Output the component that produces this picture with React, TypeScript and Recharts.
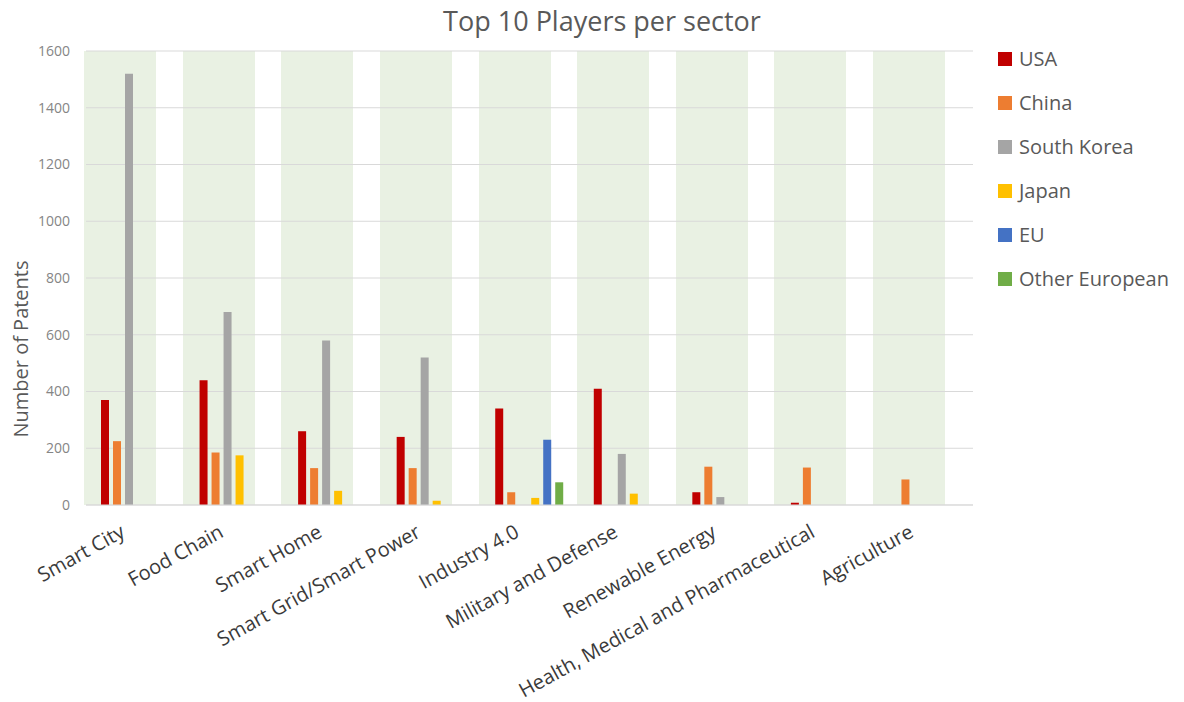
import React from 'react';
import { BarChart, Bar, XAxis, YAxis, CartesianGrid } from 'recharts';

const sectors = [
  'Smart City',
  'Food Chain',
  'Smart Home',
  'Smart Grid/Smart Power',
  'Industry 4.0',
  'Military and Defense',
  'Renewable Energy',
  'Health, Medical and Pharmaceutical',
  'Agriculture',
];
const usa = [370, 440, 260, 240, 340, 410, 45, 8, 0];
const china = [225, 185, 130, 130, 45, 0, 135, 132, 90];
const southKorea = [1520, 680, 580, 520, 0, 180, 28, 0, 0];
const japan = [0, 175, 50, 15, 25, 40, 0, 0, 0];
const eu = [0, 0, 0, 0, 230, 0, 0, 0, 0];
const otherEuropean = [0, 0, 0, 0, 80, 0, 0, 0, 0];
const yTicks = [0, 200, 400, 600, 800, 1000, 1200, 1400, 1600];

const seriesNames = ['USA', 'China', 'South Korea', 'Japan', 'EU', 'Other European'];
const seriesKeys = ['usa', 'china', 'southKorea', 'japan', 'eu', 'otherEuropean'];
const seriesColors = ['#C00000', '#ED7D31', '#A5A5A5', '#FFC000', '#4472C4', '#70AD47'];

// background band style (width and shift relative to category centre)
const BAND_WIDTH = 72;
const BAND_SHIFT = -15;

const yMax = yTicks[yTicks.length - 1];

const data = sectors.map((s, i) => ({
  sector: s,
  usa: usa[i],
  china: china[i],
  southKorea: southKorea[i],
  japan: japan[i],
  eu: eu[i],
  otherEuropean: otherEuropean[i],
}));

const CategoryTick = (props: any) => {
  const { x, y, payload } = props;
  return (
    <g transform={`translate(${x - 9},${y + 23})`}>
      <text
        textAnchor="end"
        transform="rotate(-29)"
        fontFamily="'Open Sans', sans-serif"
        fontSize={20}
        fill="#3A3A3A"
      >
        {payload.value}
      </text>
    </g>
  );
};

// band edges follow the category axis layout (one equal band per sector)
const bandEdges = ({ offset }: any) => {
  const step = offset.width / sectors.length;
  const pts: number[] = [];
  sectors.forEach((_s, i) => {
    const c = offset.left + (i + 0.5) * step + BAND_SHIFT;
    pts.push(c - BAND_WIDTH / 2, c + BAND_WIDTH / 2);
  });
  return pts;
};

export default function App() {
  return (
    <div style={{ position: 'absolute', left: 0, top: 0, width: 1184, height: 702, background: '#fff' }}>
      <BarChart
        width={1184}
        height={702}
        data={data}
        margin={{ top: 51, right: 211, left: 26, bottom: 7 }}
        barGap={4}
      >
        <CartesianGrid
          horizontal={false}
          vertical={true}
          stroke="none"
          verticalCoordinatesGenerator={bandEdges}
          verticalFill={['none', '#E9F1E3']}
          fillOpacity={1}
        />
        <CartesianGrid vertical={false} stroke="#D9D9D9" />
        <XAxis
          dataKey="sector"
          interval={0}
          tickLine={false}
          axisLine={{ stroke: '#D9D9D9' }}
          height={190}
          tick={<CategoryTick />}
        />
        <YAxis
          width={60}
          domain={[0, yMax]}
          ticks={yTicks}
          axisLine={false}
          tickLine={false}
          tickMargin={10}
          tick={{ fontFamily: "'Open Sans', sans-serif", fontSize: 14, fill: '#858585' }}
        />
        {seriesKeys.map((k, i) => (
          <Bar
            key={k}
            dataKey={k}
            name={seriesNames[i]}
            fill={seriesColors[i]}
            barSize={8}
            isAnimationActive={false}
          />
        ))}
      </BarChart>
      <svg
        width={1184}
        height={702}
        style={{ position: 'absolute', left: 0, top: 0, pointerEvents: 'none' }}
      >
        <text
          x={602}
          y={31}
          textAnchor="middle"
          fontFamily="'Open Sans', sans-serif"
          fontSize={27}
          fill="#595959"
        >
          Top 10 Players per sector
        </text>
        <text
          transform="rotate(-90, 28, 349)"
          x={28}
          y={349}
          textAnchor="middle"
          fontFamily="'Open Sans', sans-serif"
          fontSize={20}
          fill="#595959"
        >
          Number of Patents
        </text>
        {seriesNames.map((n, i) => (
          <g key={n}>
            <rect x={998} y={52 + i * 44} width={14} height={14} fill={seriesColors[i]} />
            <text
              x={1019}
              y={66 + i * 44}
              fontFamily="'Open Sans', sans-serif"
              fontSize={20}
              fill="#595959"
            >
              {n}
            </text>
          </g>
        ))}
      </svg>
    </div>
  );
}
